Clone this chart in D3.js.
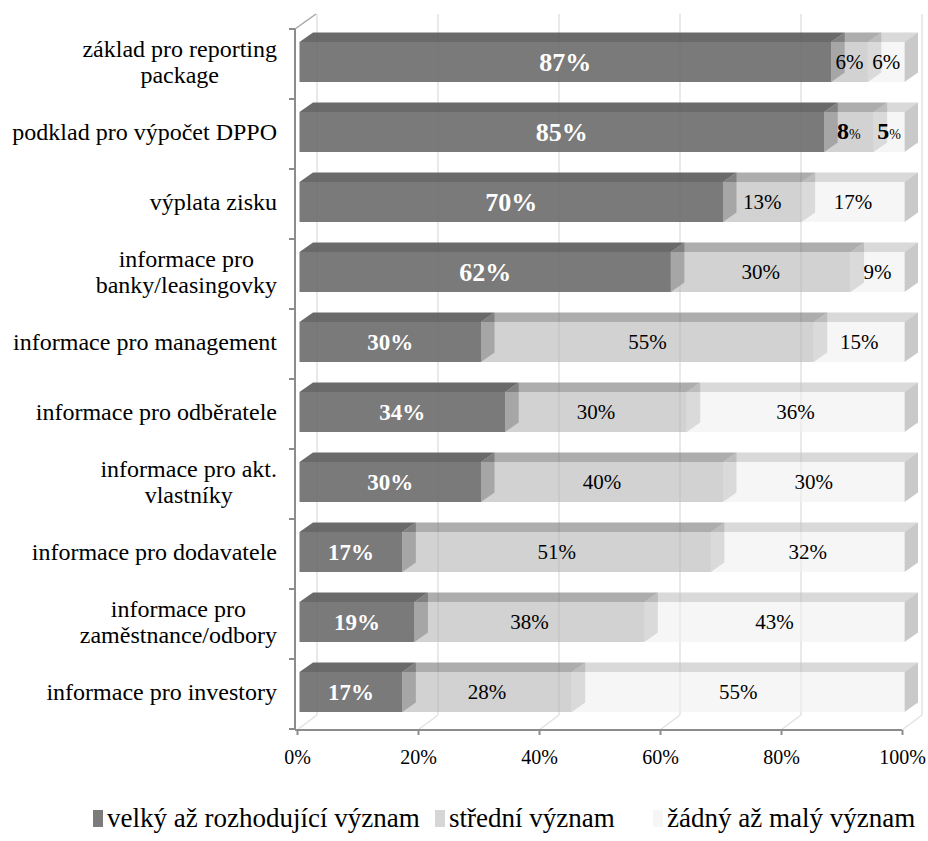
<!DOCTYPE html>
<html>
<head>
<meta charset="utf-8">
<script src="https://cdn.jsdelivr.net/npm/d3@7"></script>
<style>
  html, body { margin: 0; padding: 0; background: #ffffff; }
  svg { display: block; font-family: "Liberation Serif", "Times New Roman", serif; }
</style>
</head>
<body>
<svg id="chart" width="928" height="841"></svg>
<script>
// Purposes of the annual report (rows, top to bottom); "\n" marks a line break
const categories = [
  "základ pro reporting\npackage",
  "podklad pro výpočet DPPO",
  "výplata zisku",
  "informace pro\nbanky/leasingovky",
  "informace pro management",
  "informace pro odběratele",
  "informace pro akt.\nvlastníky",
  "informace pro dodavatele",
  "informace pro\nzaměstnance/odbory",
  "informace pro investory"
];

// Share of respondents (%) per importance level
const velky   = [87, 85, 70, 62, 30, 34, 30, 17, 19, 17];
const stredni = [ 6,  8, 13, 30, 55, 30, 40, 51, 38, 28];
const zadny   = [ 6,  5, 17,  9, 15, 36, 30, 32, 43, 55];

const seriesKeys  = ["velky", "stredni", "zadny"];
const seriesNames = ["velký až rozhodující význam", "střední význam", "žádný až malý význam"];

const xTickValues = [0, 0.2, 0.4, 0.6, 0.8, 1];

// Rows whose small-segment labels use bold digits with a smaller "%"
const boldDigitRows = ["podklad pro výpočet DPPO"];

// ---------------------------------------------------------------------------
const svg = d3.select("#chart");
const W = 928, H = 841;
svg.append("rect").attr("width", W).attr("height", H).attr("fill", "#ffffff");

const rows = categories.map((c, i) => ({ cat: c, velky: velky[i], stredni: stredni[i], zadny: zadny[i] }));
const stacked = d3.stack().keys(seriesKeys).offset(d3.stackOffsetExpand)(rows);

// Front plane of the 3D box
const x = d3.scaleLinear().domain([0, 1]).range([297, 902]);
const y = d3.scaleBand().domain(categories).range([29, 729])
  .paddingInner(0.43).paddingOuter(0.215);

const floorY = 730;
const wallDx = 20, wallDy = -15;       // full depth of the plot box
const barFx = 2.5, barFy = -2;         // bar front offset from the front plane
const barDx = 13.5, barDy = -9.5;      // bar depth

const gridColor = "#e2e2e2";
const axisColor = "#8c8c8c";

// back wall gridlines
const walls = svg.append("g");
walls.selectAll("line.grid").data(xTickValues).join("line")
  .attr("x1", d => x(d) + wallDx).attr("x2", d => x(d) + wallDx)
  .attr("y1", 29 + wallDy).attr("y2", floorY + wallDy)
  .attr("stroke", gridColor).attr("stroke-width", 1.5);
// floor lines running back from each tick
walls.selectAll("line.floor").data(xTickValues).join("line")
  .attr("x1", d => x(d)).attr("y1", floorY)
  .attr("x2", d => x(d) + wallDx).attr("y2", floorY + wallDy)
  .attr("stroke", gridColor).attr("stroke-width", 1.5);
// top edge of the side wall
walls.append("line")
  .attr("x1", 295).attr("y1", 29).attr("x2", 295 + wallDx + 1).attr("y2", 29 + wallDy)
  .attr("stroke", "#a6a6a6").attr("stroke-width", 1.5);

// series faces: top, side and front base colours with a shared opacity
const faceStyle = {
  velky:   { front: "#6c6c6c", top: "#5a5a5a", side: "#858585", op: 0.9 },
  stredni: { front: "#b4b4b4", top: "#767676", side: "#8c8c8c", op: 0.6 },
  zadny:   { front: "#f0f0f0", top: "#c0c0c0", side: "#a5a5a5", op: 0.6 }
};

const bars = svg.append("g");
categories.forEach((cat, i) => {
  const g = bars.append("g");
  stacked.forEach(s => {
    const seg = s[i];
    const st = faceStyle[s.key];
    const X0 = x(seg[0]) + barFx, X1 = x(seg[1]) + barFx;
    const Y0 = y(cat) + barFy, Y1 = Y0 + y.bandwidth();
    const pts = a => a.map(p => p.join(",")).join(" ");
    g.append("polygon")
      .attr("points", pts([[X0, Y0], [X1, Y0], [X1 + barDx, Y0 + barDy], [X0 + barDx, Y0 + barDy]]))
      .attr("fill", st.top).attr("fill-opacity", st.op);
    g.append("polygon")
      .attr("points", pts([[X1, Y0], [X1 + barDx, Y0 + barDy], [X1 + barDx, Y1 + barDy], [X1, Y1]]))
      .attr("fill", st.side).attr("fill-opacity", st.op);
    g.append("polygon")
      .attr("points", pts([[X0, Y0], [X1, Y0], [X1, Y1], [X0, Y1]]))
      .attr("fill", st.front).attr("fill-opacity", st.op);
  });
});

// data labels; the first four rows carry larger bold labels
const labels = svg.append("g");
stacked.forEach(s => {
  const vals = s.key === "velky" ? velky : s.key === "stredni" ? stredni : zadny;
  categories.forEach((cat, i) => {
    const seg = s[i];
    const cx = (x(seg[0]) + x(seg[1])) / 2 + barFx;
    const cy = y(cat) + barFy + y.bandwidth() / 2;
    const t = labels.append("text")
      .attr("x", cx).attr("y", cy).attr("dy", "0.35em")
      .attr("text-anchor", "middle");
    if (s.key === "velky") {
      t.attr("fill", "#ffffff").attr("font-weight", "bold").attr("font-size", i < 4 ? 26 : 23)
        .text(vals[i] + "%");
    } else if (boldDigitRows.includes(cat)) {
      t.attr("fill", "#000000").attr("font-size", 21);
      t.append("tspan").attr("font-weight", "bold").attr("font-size", 24).text(vals[i]);
      t.append("tspan").attr("font-size", 14).text("%");
    } else {
      t.attr("fill", "#000000").attr("font-size", 21).text(vals[i] + "%");
    }
  });
});

// axes
const axisG = svg.append("g");
axisG.append("line").attr("x1", 295).attr("x2", 295).attr("y1", 29).attr("y2", floorY)
  .attr("stroke", axisColor).attr("stroke-width", 2);
const bandEdges = categories.map(c => y(c) - y.step() * y.paddingInner() / 2).concat([729]);
axisG.selectAll("line.yt").data(bandEdges).join("line")
  .attr("x1", 289).attr("x2", 295).attr("y1", d => d).attr("y2", d => d)
  .attr("stroke", axisColor).attr("stroke-width", 2);

const xAxis = d3.axisBottom(x).tickValues(xTickValues)
  .tickFormat(d3.format(".0%")).tickSize(5).tickPadding(15);
const xg = axisG.append("g").attr("transform", `translate(0,${floorY})`).call(xAxis);
xg.select(".domain").attr("stroke", axisColor).attr("stroke-width", 2)
  .attr("d", `M295,0H${x(1)}`);
xg.selectAll(".tick line").attr("stroke", axisColor).attr("stroke-width", 2);
xg.selectAll(".tick text").attr("font-family", "Liberation Serif, serif")
  .attr("font-size", 20).attr("fill", "#000");

// category labels: centred lines, right edge of the block next to the axis
const catG = svg.append("g").attr("font-size", 24).attr("fill", "#000");
categories.forEach(cat => {
  const lines = cat.split("\n");
  const cy = y(cat) + y.bandwidth() / 2 - 2;
  const lh = 26;
  const t = catG.append("text").attr("text-anchor", "middle");
  lines.forEach((ln, k) => {
    t.append("tspan").attr("y", cy + (k - (lines.length - 1) / 2) * lh).attr("dy", "0.35em").text(ln);
  });
  let wmax = 0;
  t.selectAll("tspan").each(function () { wmax = Math.max(wmax, this.getComputedTextLength()); });
  t.selectAll("tspan").attr("x", 277 - wmax / 2);
});

// legend
const legendColors = ["#7b7b7b", "#d6d6d6", "#f6f6f6"];
const legendX = [93, 435, 653];
const legend = svg.append("g").attr("font-size", 27);
seriesNames.forEach((name, i) => {
  legend.append("rect").attr("x", legendX[i]).attr("y", 810).attr("width", 10).attr("height", 17)
    .attr("fill", legendColors[i]);
  legend.append("text").attr("x", legendX[i] + 14).attr("y", 827).text(name);
});
</script>
</body>
</html>
